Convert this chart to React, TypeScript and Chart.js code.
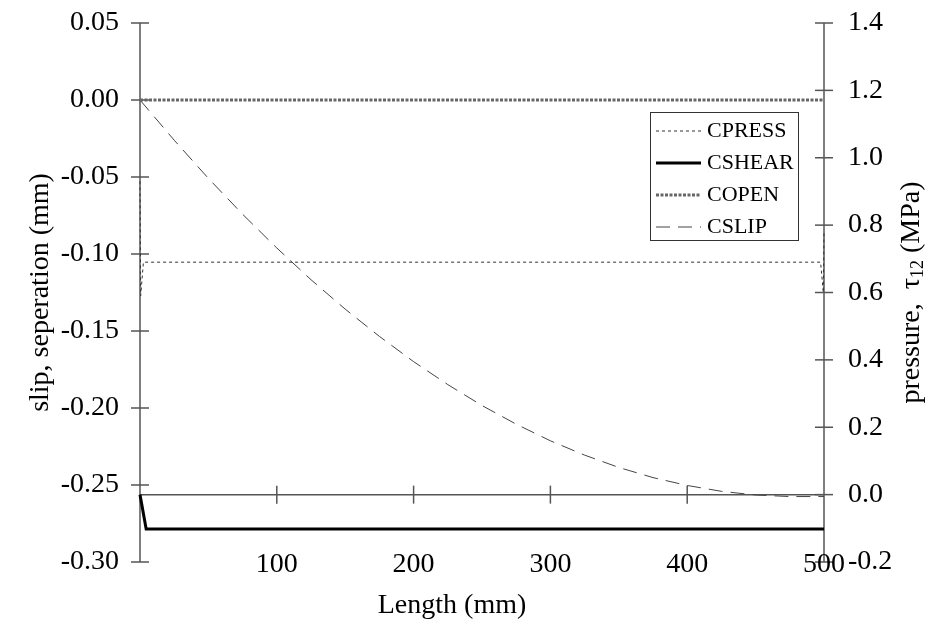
import React, { useEffect, useRef } from 'react';
import { Chart, registerables } from 'chart.js';

Chart.register(...registerables);

// ---- data ----
const cpressX = [0, 0.5, 2.5, 497.5, 499.5, 500];
const cpressY = [0.93, 0.59, 0.69, 0.69, 0.6, 0.78];

const cshearX = [0, 4.5, 500];
const cshearY = [0, -0.102, -0.102];

const copenX = [0, 500];
const copenY = [0, 0];

const cslipX = [0, 25, 50, 75, 100, 125, 150, 175, 200, 225, 250, 275, 300, 325, 350, 375, 400, 425, 450, 475, 500];
const cslipY = [0, -0.0261, -0.0509, -0.0742, -0.0961, -0.1167, -0.1358, -0.1535, -0.1699, -0.1848, -0.1984, -0.2105, -0.2213, -0.2306, -0.2386, -0.2452, -0.2503, -0.2541, -0.2565, -0.2575, -0.2575];

const seriesLabels = ['CPRESS', 'CSHEAR', 'COPEN', 'CSLIP'];
const leftTitle = 'slip, seperation (mm)';
const rightTitleMain = 'pressure,  \u03c4';
const rightTitleSub = '12';
const rightTitleEnd = ' (MPa)';
const xTitle = 'Length (mm)';

const FONT_FAMILY = '"Liberation Serif", "Times New Roman", serif';
const FONT = `28px ${FONT_FAMILY}`;

function zip(xs: number[], ys: number[]) {
  return xs.map((x, i) => ({ x, y: ys[i] }));
}

function seg(ctx: CanvasRenderingContext2D, x1: number, y1: number, x2: number, y2: number) {
  ctx.beginPath();
  ctx.moveTo(x1, y1);
  ctx.lineTo(x2, y2);
  ctx.stroke();
}

function fmt(v: number, d: number) {
  const vv = Math.abs(v) < 1e-9 ? 0 : v;
  return vv.toFixed(d);
}

const axesPlugin = {
  id: 'axesPainter',
  beforeDatasetsDraw(chart: any) {
    const { ctx, chartArea: a, scales } = chart;
    const xs = scales.x;
    const ys = scales.y;
    const y1s = scales.y1;
    ctx.save();
    ctx.strokeStyle = '#555';
    ctx.lineWidth = 1.5;
    // vertical axes
    seg(ctx, a.left, a.top, a.left, a.bottom);
    seg(ctx, a.right, a.top, a.right, a.bottom);
    // horizontal axis crossing at right-axis zero
    const x0 = y1s.getPixelForValue(0);
    seg(ctx, a.left, x0, a.right, x0);
    ys.ticks.forEach((t: any) => {
      const py = ys.getPixelForValue(t.value);
      seg(ctx, a.left - 9, py, a.left + 9, py);
    });
    y1s.ticks.forEach((t: any) => {
      const py = y1s.getPixelForValue(t.value);
      seg(ctx, a.right - 9, py, a.right + 9, py);
    });
    xs.ticks.forEach((t: any) => {
      if (t.value <= 0 || t.value >= 500) return;
      const px = xs.getPixelForValue(t.value);
      seg(ctx, px, x0 - 9, px, x0 + 9);
    });

    // tick labels
    ctx.fillStyle = '#000';
    ctx.font = FONT;
    ctx.textBaseline = 'middle';
    ctx.textAlign = 'right';
    ys.ticks.forEach((t: any) => {
      ctx.fillText(fmt(t.value, 2), a.left - 21, ys.getPixelForValue(t.value));
    });
    ctx.textAlign = 'left';
    y1s.ticks.forEach((t: any) => {
      ctx.fillText(fmt(t.value, 1), a.right + 24, y1s.getPixelForValue(t.value));
    });
    ctx.textAlign = 'center';
    xs.ticks.forEach((t: any) => {
      if (t.value <= 0) return;
      ctx.fillText(String(t.value), xs.getPixelForValue(t.value), a.bottom + 3);
    });

    // titles
    const midY = (a.top + a.bottom) / 2;
    ctx.fillText(xTitle, 452, 606);

    ctx.save();
    ctx.translate(41, midY);
    ctx.rotate(-Math.PI / 2);
    ctx.textAlign = 'center';
    ctx.fillText(leftTitle, 0, 0);
    ctx.restore();

    ctx.save();
    ctx.translate(912, midY);
    ctx.rotate(-Math.PI / 2);
    ctx.textAlign = 'left';
    const subFont = `18px ${FONT_FAMILY}`;
    ctx.font = FONT;
    const w1 = ctx.measureText(rightTitleMain).width;
    const w3 = ctx.measureText(rightTitleEnd).width;
    ctx.font = subFont;
    const w2 = ctx.measureText(rightTitleSub).width;
    const total = w1 + w2 + w3;
    let cx = -total / 2;
    ctx.font = FONT;
    ctx.fillText(rightTitleMain, cx, 0);
    cx += w1;
    ctx.font = subFont;
    ctx.fillText(rightTitleSub, cx, 6);
    cx += w2;
    ctx.font = FONT;
    ctx.fillText(rightTitleEnd, cx, 0);
    ctx.restore();

    ctx.restore();
  },
};

const legendPlugin = {
  id: 'boxLegend',
  afterDraw(chart: any) {
    const ctx = chart.ctx as CanvasRenderingContext2D;
    const bx = 650, by = 112, bw = 148, bh = 128;
    ctx.save();
    ctx.fillStyle = '#fff';
    ctx.fillRect(bx, by, bw, bh);
    ctx.strokeStyle = '#333';
    ctx.lineWidth = 1;
    ctx.strokeRect(bx + 0.5, by + 0.5, bw, bh);
    ctx.font = `22px ${FONT_FAMILY}`;
    ctx.textBaseline = 'middle';
    ctx.textAlign = 'left';
    chart.data.datasets.forEach((ds: any, i: number) => {
      const cy = 131 + i * 32;
      ctx.strokeStyle = ds.borderColor;
      ctx.lineWidth = ds.borderWidth;
      ctx.setLineDash(ds.borderDash || []);
      seg(ctx, 656, cy, 701, cy);
      ctx.setLineDash([]);
      ctx.fillStyle = '#000';
      ctx.fillText(ds.label, 707, cy);
    });
    ctx.restore();
  },
};

export default function App() {
  const ref = useRef<HTMLCanvasElement | null>(null);

  useEffect(() => {
    if (!ref.current) return;
    const chart = new Chart(ref.current, {
      type: 'line',
      data: {
        datasets: [
          {
            label: seriesLabels[0],
            data: zip(cpressX, cpressY),
            yAxisID: 'y1',
            borderColor: '#333',
            borderWidth: 1,
            borderDash: [3, 3],
            pointRadius: 0,
            tension: 0,
            clip: false as any,
          },
          {
            label: seriesLabels[1],
            data: zip(cshearX, cshearY),
            yAxisID: 'y1',
            borderColor: '#000',
            borderWidth: 3,
            pointRadius: 0,
            tension: 0,
            clip: false as any,
          },
          {
            label: seriesLabels[2],
            data: zip(copenX, copenY),
            yAxisID: 'y',
            borderColor: '#666',
            borderWidth: 3,
            borderDash: [3, 1.5],
            pointRadius: 0,
            tension: 0,
            clip: false as any,
          },
          {
            label: seriesLabels[3],
            data: zip(cslipX, cslipY),
            yAxisID: 'y',
            borderColor: '#444',
            borderWidth: 1,
            borderDash: [14, 8],
            pointRadius: 0,
            tension: 0,
            clip: false as any,
          },
        ],
      },
      options: {
        responsive: false,
        animation: false,
        layout: { padding: { left: 140, right: 122, top: 23, bottom: 68 } },
        plugins: { legend: { display: false }, tooltip: { enabled: false }, title: { display: false } },
        scales: {
          x: { type: 'linear', min: 0, max: 500, ticks: { stepSize: 100 }, display: false },
          y: { type: 'linear', position: 'left', min: -0.3, max: 0.05, ticks: { stepSize: 0.05 }, display: false },
          y1: { type: 'linear', position: 'right', min: -0.2, max: 1.4, ticks: { stepSize: 0.2 }, display: false },
        },
      },
      plugins: [axesPlugin, legendPlugin],
    });
    return () => chart.destroy();
  }, []);

  return (
    <div style={{ position: 'fixed', left: 0, top: 0, width: 946, height: 630, background: '#fff' }}>
      <canvas ref={ref} width={946} height={630} style={{ display: 'block' }} />
    </div>
  );
}
